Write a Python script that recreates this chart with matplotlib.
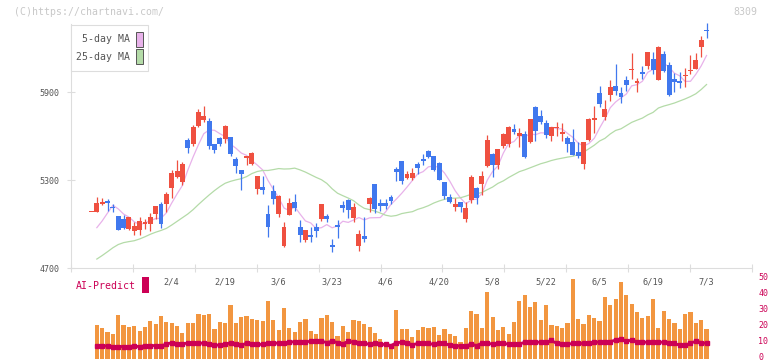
from __future__ import annotations

import numpy as np
import matplotlib

matplotlib.use("Agg")
import matplotlib.pyplot as plt
import matplotlib.transforms as mtransforms
from matplotlib.patches import Rectangle


W, H = 772, 361

COLORS = {
    "up": "#ef5040",
    "down": "#4078ee",
    "ma5": "#e8b2ea",
    "ma25": "#b4dba8",
    "axis": "#dddddd",
    "text": "#555555",
    "faint": "#c8c8c8",
    "bar": "#f29640",
    "ai": "#cc0055",
}

# daily candles (yen)
opens = [5086, 5086, 5136, 5157, 5118, 5054, 5034, 4966, 4954, 4961, 5002, 5002, 5068, 5141, 5136,
         5245, 5325, 5289, 5573, 5548, 5668, 5711, 5702, 5545, 5586, 5584, 5593, 5445, 5368, 5452,
         5409, 5241, 5252, 5068, 5225, 5068, 4852, 5061, 5150, 4980, 4891, 4925, 4980, 5034, 5054,
         4857, 4993, 5130, 5164, 5041, 4852, 4918, 5136, 5273, 5143, 5143, 5184, 5375, 5430, 5316,
         5314, 5409, 5443, 5498, 5464, 5416, 5286, 5184, 5118, 5150, 5034, 5164, 5245, 5273, 5395,
         5477, 5402, 5532, 5545, 5648, 5600, 5614, 5559, 5798, 5736, 5689, 5600, 5655, 5614, 5586,
         5559, 5491, 5409, 5573, 5711, 5893, 5730, 5880, 5941, 5893, 5982, 6052, 5964, 6036, 6077,
         6125, 5982, 6159, 6084, 5989, 5975, 6009, 6043, 6057, 6207, 6323]
highs = [5086, 5189, 5182, 5171, 5136, 5054, 5066, 5048, 5016, 5048, 5034, 5075, 5123, 5150, 5220,
         5370, 5436, 5425, 5586, 5675, 5789, 5805, 5727, 5545, 5593, 5675, 5598, 5457, 5368, 5466,
         5491, 5327, 5327, 5130, 5266, 5198, 5014, 5177, 5205, 5027, 4959, 4980, 5007, 5136, 5068,
         4898, 5027, 5157, 5170, 5143, 4959, 5048, 5184, 5273, 5170, 5170, 5198, 5389, 5430, 5361,
         5382, 5423, 5477, 5505, 5464, 5423, 5286, 5205, 5177, 5150, 5150, 5334, 5252, 5361, 5607,
         5484, 5511, 5620, 5668, 5682, 5655, 5634, 5716, 5805, 5777, 5709, 5661, 5695, 5689, 5600,
         5648, 5559, 5559, 5723, 5805, 5941, 5845, 5982, 6091, 5934, 6009, 6166, 5995, 6077, 6173,
         6173, 6214, 6180, 6105, 6030, 6036, 6064, 6152, 6166, 6282, 6370]
lows = [5086, 5086, 5130, 5091, 5084, 4961, 4966, 4959, 4927, 4927, 4968, 4954, 5034, 4975, 5084,
        5180, 5316, 5266, 5486, 5534, 5661, 5698, 5511, 5486, 5534, 5557, 5464, 5350, 5236, 5402,
        5402, 5207, 5207, 4914, 5136, 5050, 4845, 5061, 5089, 4880, 4880, 4880, 4914, 5023, 5016,
        4811, 4907, 5082, 5041, 5016, 4818, 4880, 5084, 5075, 5089, 5102, 5136, 5293, 5273, 5307,
        5302, 5341, 5402, 5452, 5361, 5302, 5170, 5143, 5089, 5082, 5014, 5143, 5136, 5200, 5389,
        5320, 5375, 5518, 5525, 5614, 5527, 5452, 5552, 5566, 5682, 5586, 5566, 5600, 5566, 5491,
        5470, 5450, 5375, 5566, 5620, 5798, 5709, 5839, 5880, 5825, 5907, 5989, 5900, 5989, 6057,
        6023, 5982, 6036, 5873, 5900, 5927, 5934, 6023, 6057, 6139, 6268]
closes = [5086, 5148, 5155, 5145, 5114, 4961, 4973, 5048, 4986, 5020, 5016, 5048, 5123, 5000, 5205,
          5348, 5361, 5409, 5518, 5661, 5768, 5736, 5534, 5507, 5545, 5668, 5477, 5398, 5343, 5466,
          5484, 5327, 5234, 4982, 5170, 5191, 4980, 5143, 5109, 4925, 4959, 4911, 4952, 5136, 5034,
          4845, 4980, 5109, 5095, 5116, 4932, 4898, 5177, 5102, 5123, 5123, 5157, 5357, 5293, 5341,
          5348, 5382, 5432, 5457, 5368, 5302, 5191, 5150, 5136, 5116, 5109, 5320, 5177, 5327, 5573,
          5402, 5511, 5614, 5661, 5630, 5620, 5457, 5716, 5634, 5695, 5607, 5661, 5661, 5627, 5546,
          5470, 5464, 5559, 5716, 5723, 5818, 5784, 5934, 5909, 5866, 5948, 6061, 5975, 6023, 6173,
          6050, 6207, 6043, 5880, 5968, 5961, 6016, 6050, 6118, 6255, 6318]

# moving averages as drawn (first day has none)
ma5 = [np.nan, 4977, 5023, 5077, 5130, 5105, 5070, 5049, 5017, 4998, 5009, 5024, 5039, 5041, 5078,
       5145, 5207, 5265, 5368, 5459, 5543, 5618, 5643, 5641, 5618, 5598, 5546, 5519, 5486, 5470,
       5434, 5404, 5371, 5299, 5239, 5181, 5111, 5093, 5119, 5070, 5023, 5009, 4971, 4977, 4998,
       4976, 4989, 5021, 5013, 5029, 5046, 5030, 5044, 5045, 5046, 5085, 5136, 5172, 5211, 5254,
       5299, 5344, 5359, 5392, 5397, 5388, 5350, 5294, 5229, 5179, 5140, 5166, 5172, 5210, 5301,
       5360, 5398, 5485, 5552, 5564, 5607, 5596, 5617, 5611, 5624, 5622, 5663, 5652, 5650, 5620,
       5593, 5554, 5533, 5551, 5586, 5656, 5720, 5795, 5834, 5862, 5888, 5944, 5952, 5975, 6036,
       6056, 6086, 6099, 6071, 6030, 6012, 5974, 5975, 6023, 6080, 6151]
ma25 = [np.nan, 4763, 4787, 4813, 4840, 4862, 4875, 4882, 4888, 4900, 4915, 4932, 4946, 4958, 4972,
        4995, 5020, 5045, 5070, 5100, 5135, 5168, 5200, 5230, 5257, 5280, 5293, 5303, 5311, 5325,
        5346, 5360, 5367, 5367, 5373, 5380, 5377, 5378, 5383, 5371, 5356, 5338, 5320, 5304, 5279,
        5242, 5212, 5195, 5179, 5161, 5132, 5109, 5100, 5090, 5077, 5062, 5055, 5060, 5073, 5080,
        5086, 5102, 5113, 5127, 5145, 5159, 5170, 5178, 5178, 5181, 5192, 5205, 5208, 5217, 5236,
        5254, 5279, 5296, 5319, 5339, 5359, 5371, 5385, 5399, 5413, 5423, 5435, 5444, 5451, 5458,
        5464, 5475, 5492, 5515, 5539, 5568, 5586, 5616, 5640, 5651, 5673, 5695, 5710, 5724, 5746,
        5763, 5793, 5806, 5816, 5827, 5841, 5855, 5871, 5890, 5919, 5953]

# AI-Predict panel (from the second day on)
ai_bars = [21.3, 19.6, 17.1, 15.6, 27.5, 21.3, 20.2, 20.6, 17.5, 20.0, 23.8, 21.9, 26.9, 23.1, 22.7,
           20.8, 16.5, 22.7, 22.7, 28.1, 27.5, 28.1, 18.8, 23.1, 22.7, 33.8, 22.7, 26.3, 26.9, 25.0,
           24.4, 23.8, 36.3, 24.4, 18.1, 31.9, 19.4, 16.9, 23.1, 25.0, 17.5, 15.6, 25.6, 27.5, 23.1,
           14.4, 20.6, 16.9, 24.4, 23.8, 21.9, 20.0, 16.3, 12.5, 9.5, 7.5, 30.4, 18.8, 18.8, 13.8,
           18.1, 20.0, 19.4, 20.0, 15.0, 18.8, 15.6, 14.4, 10.6, 19.4, 30.0, 28.0, 19.4, 41.9, 26.3,
           18.1, 20.0, 15.6, 23.1, 36.3, 40.0, 32.5, 35.6, 24.4, 33.8, 21.3, 20.6, 19.4, 22.5, 50.0,
           25.0, 21.9, 27.5, 25.6, 23.8, 38.8, 33.8, 37.5, 48.0, 40.0, 34.4, 29.4, 25.6, 26.9, 37.5,
           19.4, 30.0, 25.0, 22.5, 18.8, 28.0, 29.4, 22.5, 24.4, 18.8]
ai_line = [8.4, 8.4, 8.0, 7.8, 7.8, 7.8, 7.8, 8.2, 7.6, 8.4, 8.4, 8.4, 8.4, 9.1, 10.3,
           9.5, 9.5, 9.9, 9.9, 9.9, 9.9, 9.3, 8.8, 8.6, 9.5, 9.9, 9.1, 8.6, 9.9, 9.1,
           9.1, 9.1, 9.9, 9.9, 9.9, 9.9, 10.7, 10.7, 10.7, 10.7, 11.1, 11.1, 11.1, 10.3, 11.1,
           10.3, 9.5, 11.1, 10.5, 9.9, 9.9, 9.1, 9.9, 9.1, 9.1, 8.4, 10.1, 10.5, 9.9, 8.9,
           9.7, 9.7, 9.7, 9.1, 9.7, 9.7, 8.6, 8.2, 8.2, 8.2, 9.3, 8.4, 9.9, 9.9, 9.3,
           9.7, 9.7, 9.3, 9.3, 9.3, 10.5, 10.5, 10.5, 10.5, 10.5, 11.6, 9.7, 9.3, 9.3, 9.7,
           9.7, 9.7, 9.9, 10.5, 10.5, 10.5, 10.9, 11.8, 12.2, 11.1, 11.8, 10.7, 10.5, 10.5, 10.5,
           10.5, 10.5, 10.1, 9.7, 8.6, 8.6, 9.9, 11.1, 10.3, 9.7]

date_labels = ["2/4", "2/19", "3/6", "3/23", "4/6", "4/20", "5/8", "5/22", "6/5", "6/19", "7/3"]
price_ticks = [4700, 5300, 5900]
ai_ticks = [0, 10, 20, 30, 40, 50]


def fx(px: float) -> float:
    return px / W


def fy(py: float) -> float:
    return 1 - py / H


plt.rcParams.update({
    "font.family": ["DejaVu Sans Mono"],
    "figure.facecolor": "white",
    "axes.facecolor": "none",
})

fig = plt.figure(figsize=(W / 100, H / 100), dpi=100)

# ---- price panel
ax = fig.add_axes([fx(71), fy(268.3), fx(752) - fx(71), fy(4.3) - fy(268.3)])
xmin, xmax = -3.83, 123.5
ax.set_xlim(xmin, xmax)
ax.set_ylim(4700, 6500)

o = np.array(opens, float)
c = np.array(closes, float)
x = np.arange(len(c))
col = np.where(c >= o, COLORS["up"], COLORS["down"])
mid = (o + c) / 2
body = np.maximum(np.abs(c - o), 7)

ax.vlines(x, lows, highs, colors=col, linewidth=0.9, zorder=3)
ax.bar(x, body, bottom=mid - body / 2, width=0.92, color=col, linewidth=0, zorder=4)
ax.plot(x, ma5, color=COLORS["ma5"], linewidth=0.9, zorder=2)
ax.plot(x, ma25, color=COLORS["ma25"], linewidth=0.9, zorder=2)

for s in ("top", "right"):
    ax.spines[s].set_visible(False)
ax.spines["left"].set_bounds(4700, 6364)
for s in ("left", "bottom"):
    ax.spines[s].set_color(COLORS["axis"])
    ax.spines[s].set_linewidth(0.8)

ax.set_yticks(price_ticks)
ax.set_xticks(np.linspace(xmin, xmax, 12))
ax.set_xticklabels([])
ax.tick_params(axis="both", direction="inout", length=6, width=0.8, color=COLORS["axis"])
ax.tick_params(axis="y", labelsize=6, labelcolor=COLORS["text"], pad=5)

for i, lab in enumerate(date_labels):
    ax.text(15 + 10 * i, 4604, lab, ha="center", va="center", fontsize=6.2,
            color=COLORS["text"], clip_on=False)

# ---- AI-Predict panel
ax2 = fig.add_axes([fx(71), fy(359), fx(752) - fx(71), fy(275.8) - fy(359)])
ax2.set_xlim(xmin, xmax)
ax2.set_ylim(0, 52)
xa = x[1:]
ax2.bar(xa, ai_bars, width=0.78, color=COLORS["bar"], linewidth=0)
ax2.plot(xa, ai_line, color=COLORS["ai"], linewidth=2.0, marker="s", markersize=2.4)
for s in ax2.spines.values():
    s.set_visible(False)
ax2.set_xticks([])
ax2.yaxis.tick_right()
ax2.set_yticks(ai_ticks)
ax2.tick_params(axis="y", length=0, pad=4.5, labelsize=6, labelcolor=COLORS["ai"])
lift = mtransforms.ScaledTranslation(0, 2 / 100, fig.dpi_scale_trans)
for lab in ax2.get_yticklabels():
    lab.set_transform(lab.get_transform() + lift)

fig.text(fx(75.5), fy(286), "AI-Predict", fontsize=7.1, color=COLORS["ai"], ha="left", va="center")
fig.add_artist(Rectangle((fx(142), fy(293)), fx(7), 16 / H, transform=fig.transFigure,
                         facecolor=COLORS["ai"], edgecolor="none"))

# ---- header
fig.text(fx(14), fy(12), "(C)https://chartnavi.com/", fontsize=7.1, color=COLORS["faint"],
         ha="left", va="center")
fig.text(fx(757), fy(12), "8309", fontsize=7.1, color=COLORS["faint"], ha="right", va="center")

# ---- legend
fig.add_artist(Rectangle((fx(70.7), fy(71.3)), fx(77.6), 46.6 / H, transform=fig.transFigure,
                         facecolor="white", edgecolor=COLORS["axis"], linewidth=0.8))
for label, yc, key in (("5-day MA", 39.5, "ma5"), ("25-day MA", 56.5, "ma25")):
    fig.text(fx(129.5), fy(yc), label, fontsize=7.1, color=COLORS["text"], ha="right", va="center")
    fig.add_artist(Rectangle((fx(136.2), fy(yc + 7.2)), fx(6.4), 14.6 / H,
                             transform=fig.transFigure, facecolor=COLORS[key],
                             edgecolor=COLORS["text"], linewidth=0.7))

fig.savefig("out.png", dpi=100)
